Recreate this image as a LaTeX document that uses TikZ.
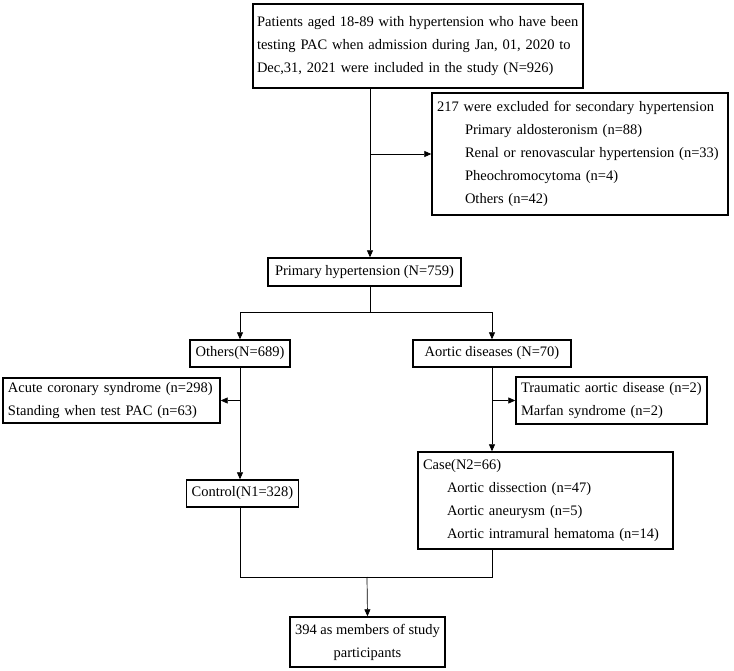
\documentclass[tikz,border=0pt]{standalone}
\usepackage{fontspec}
\setmainfont{Liberation Serif}
\usepackage{tikz}
\usetikzlibrary{arrows.meta}
\tikzset{
	box/.style={draw, line width=1.4pt, inner ysep=0pt, inner xsep=5pt, align=left,
		font=\fontsize{14.5}{23}\selectfont},
	link/.style={line width=0.7pt},
	arr/.style={link, -{Triangle[length=7pt,width=6pt]}}
}

\begin{document}
\begin{tikzpicture}[x=1pt, y=-1pt]
			\useasboundingbox (0,0) rectangle (734,671);
			\node[box, inner xsep=4pt, text width=322pt, minimum height=84pt] (top) at (418, 46)
				{Patients aged 18-89 with hypertension who have been\\
				testing PAC when admission during Jan, 01, 2020 to\\
				Dec,31, 2021 were included in the study (N=926)};
			\node[box, text width=286pt, minimum height=122pt] (excl) at (580, 154)
				{217 were excluded for secondary hypertension\\
				\hspace*{28pt}Primary aldosteronism (n=88)\\
				\hspace*{28pt}Renal or renovascular hypertension (n=33)\\
				\hspace*{28pt}Pheochromocytoma (n=4)\\
				\hspace*{28pt}Others (n=42)};
			\node[box, align=center, minimum width=193pt, minimum height=28pt] (prim) at (364.5, 272)
				{Primary hypertension (N=759)};
			\node[box, align=center, minimum width=100pt, minimum height=27pt] (others) at (240, 353.5)
				{Others(N=689)};
			\node[box, align=center, minimum width=158pt, minimum height=27pt] (aortic) at (492, 353.5)
				{Aortic diseases (N=70)};
			\node[box, text width=207pt, minimum height=45pt] (acute) at (111.5, 400.5)
				{Acute coronary syndrome (n=298)\\
				Standing when test PAC (n=63)};
			\node[box, text width=181pt, minimum height=47pt] (traum) at (611.5, 400.5)
				{Traumatic aortic disease (n=2)\\
				Marfan syndrome (n=2)};
			\node[box, align=center, minimum width=109pt, minimum height=27pt] (control) at (242.5, 493.5)
				{Control(N1=328)};
			\node[box, text width=245pt, minimum height=97pt] (case) at (545.5, 500.5)
				{Case(N2=66)\\
				\hspace*{24pt}Aortic dissection (n=47)\\
				\hspace*{24pt}Aortic aneurysm (n=5)\\
				\hspace*{24pt}Aortic intramural hematoma (n=14)};
			\node[box, align=center, minimum width=155pt, minimum height=50pt] (final) at (367.5, 642)
				{394 as members of study\\
				participants};
			\coordinate (s1) at (370, 0);
			\coordinate (j1) at (370, 312);
			\coordinate (j2) at (367, 577);
			\draw[arr] (top.south -| s1) -- (prim.north -| s1);
			\draw[arr] (excl.west -| s1) -- (excl.west);
			\draw[link] (prim.south -| j1) -- (j1);
			\draw[arr] (j1) -| (others.north);
			\draw[arr] (j1) -| (aortic.north);
			\draw[arr] (others.south) -- (others.south |- control.north);
			\draw[arr] (others.south |- acute.east) -- (acute.east);
			\draw[arr] (aortic.south) -- (aortic.south |- case.north);
			\draw[arr] (aortic.south |- traum.west) -- (traum.west);
			\draw[link] (others.south |- control.south) -- (others.south |- j2) -- (aortic.south |- j2) -- (aortic.south |- case.south);
			\draw[arr] (j2) -- (final.north);
		\end{tikzpicture}
\end{document}
